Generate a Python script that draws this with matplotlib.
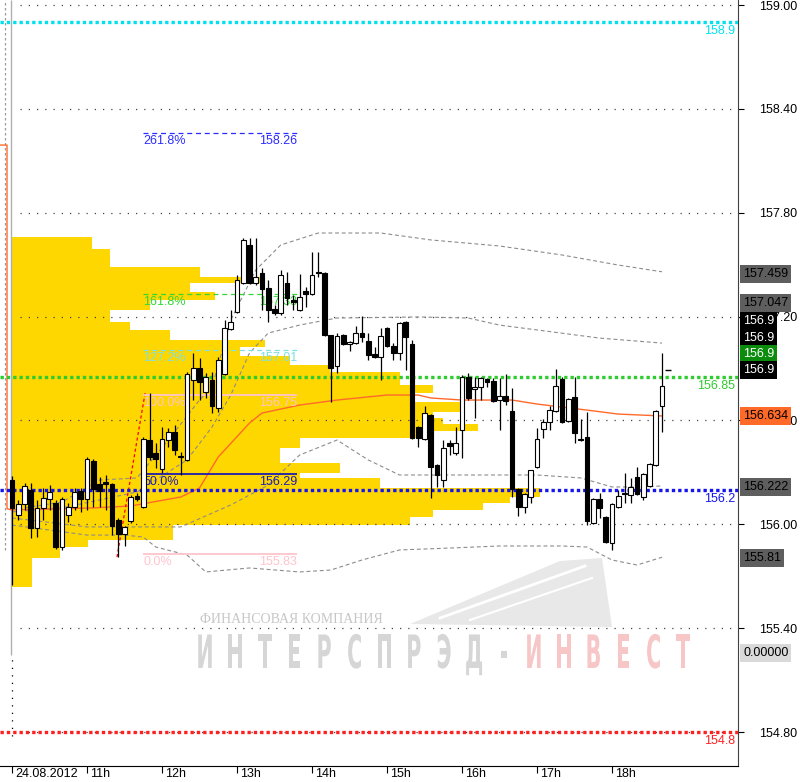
import matplotlib
matplotlib.use("Agg")
import matplotlib.pyplot as plt
from matplotlib.patches import PathPatch, Polygon
from matplotlib.textpath import TextPath
from matplotlib.font_manager import FontProperties
from matplotlib.transforms import Affine2D, blended_transform_factory

plt.rcParams["font.family"] = ["Liberation Sans", "DejaVu Sans"]

# 5-minute candles, 24.08.2012 from 10:00 (index 0)
opens = [156.256, 156.054, 156.118, 156.198, 155.979, 156.095, 156.146, 156.123, 155.869, 156.054,
         156.100, 156.192, 156.146, 156.366, 156.233, 156.244, 156.233, 156.025, 155.944, 156.019,
         156.164, 156.100, 156.487, 156.412, 156.319, 156.487, 156.533, 156.394, 156.372, 156.834,
         156.903, 156.764, 156.834, 156.672, 156.868, 157.129, 157.227, 157.394, 157.614, 157.394,
         157.452, 157.365, 157.244, 157.221, 157.394, 157.296, 157.238, 157.348, 157.331, 157.458,
         157.452, 157.094, 156.914, 157.094, 157.042, 157.048, 157.105, 157.059, 156.984, 156.967,
         157.134, 157.030, 156.990, 157.169, 157.042, 156.562, 156.493, 156.632, 156.343, 156.256,
         156.470, 156.412, 156.545, 156.851, 156.782, 156.793, 156.840, 156.828, 156.718, 156.741,
         156.655, 156.204, 156.100, 156.158, 156.331, 156.551, 156.591, 156.655, 156.840, 156.597,
         156.735, 156.493, 156.504, 156.008, 156.146, 156.042, 155.892, 156.100, 156.175, 156.170,
         156.273, 156.158, 156.221, 156.343, 156.683]
highs = [156.279, 156.141, 156.239, 156.239, 156.141, 156.210, 156.227, 156.141, 156.158, 156.123,
         156.210, 156.210, 156.389, 156.377, 156.273, 156.285, 156.239, 156.037, 155.990, 156.170,
         156.181, 156.504, 156.759, 156.470, 156.562, 156.556, 156.574, 156.418, 156.880, 156.990,
         156.961, 156.874, 156.880, 156.967, 157.180, 157.238, 157.440, 157.654, 157.654, 157.654,
         157.481, 157.411, 157.267, 157.469, 157.457, 157.325, 157.446, 157.371, 157.573, 157.573,
         157.458, 157.094, 157.105, 157.100, 157.059, 157.146, 157.203, 157.105, 157.024, 157.134,
         157.140, 157.047, 157.169, 157.175, 157.065, 156.568, 156.683, 156.637, 156.349, 156.487,
         156.487, 156.562, 156.863, 156.874, 156.851, 156.851, 156.845, 156.845, 156.845, 156.868,
         156.788, 156.210, 156.181, 156.314, 156.556, 156.608, 156.683, 156.897, 156.851, 156.730,
         156.851, 156.608, 156.649, 156.152, 156.181, 156.048, 156.123, 156.198, 156.296, 156.268,
         156.331, 156.296, 156.354, 156.660, 156.990]
lows = [155.649, 156.025, 156.083, 155.921, 155.926, 156.025, 156.083, 155.857, 155.852, 156.013,
        156.083, 156.072, 156.083, 156.100, 156.100, 156.083, 155.938, 155.811, 155.875, 156.008,
        156.135, 156.095, 156.372, 156.325, 156.296, 156.446, 156.400, 156.285, 156.366, 156.718,
        156.718, 156.730, 156.643, 156.649, 156.863, 157.123, 157.221, 157.388, 157.388, 157.382,
        157.238, 157.169, 157.209, 157.209, 157.267, 157.238, 157.232, 157.256, 157.325, 157.429,
        157.088, 156.707, 156.874, 157.036, 157.001, 157.042, 157.053, 156.949, 156.961, 156.834,
        157.024, 156.949, 156.949, 156.892, 156.493, 156.446, 156.487, 156.152, 156.216, 156.216,
        156.400, 156.400, 156.383, 156.718, 156.614, 156.718, 156.793, 156.707, 156.545, 156.689,
        156.158, 156.048, 156.066, 156.123, 156.325, 156.499, 156.545, 156.649, 156.585, 156.591,
        156.470, 156.481, 155.996, 156.002, 156.037, 155.892, 155.852, 156.095, 156.123, 156.123,
        156.170, 156.141, 156.216, 156.337, 156.533]
closes = [156.095, 156.118, 156.221, 155.979, 156.095, 156.152, 156.187, 155.869, 156.146, 156.100,
          156.187, 156.146, 156.377, 156.204, 156.192, 156.233, 155.990, 155.944, 155.985, 156.158,
          156.146, 156.493, 156.389, 156.377, 156.493, 156.533, 156.429, 156.389, 156.868, 156.903,
          156.822, 156.851, 156.683, 156.949, 157.134, 157.169, 157.411, 157.643, 157.394, 157.429,
          157.359, 157.238, 157.221, 157.440, 157.307, 157.284, 157.313, 157.331, 157.440, 157.452,
          157.094, 156.903, 157.088, 157.042, 157.053, 157.105, 157.082, 156.978, 156.967, 157.088,
          157.030, 156.990, 157.163, 157.082, 156.499, 156.499, 156.643, 156.331, 156.285, 156.441,
          156.452, 156.470, 156.851, 156.730, 156.793, 156.845, 156.822, 156.712, 156.741, 156.712,
          156.204, 156.100, 156.175, 156.314, 156.493, 156.591, 156.660, 156.799, 156.591, 156.724,
          156.528, 156.487, 156.019, 156.146, 156.095, 155.898, 156.118, 156.164, 156.181, 156.216,
          156.175, 156.291, 156.349, 156.655, 156.799]

# volume profile (price bin edges, volume per bin)
profile_edges = [157.660, 157.591, 157.487, 157.429, 157.394, 157.342, 157.296, 157.238, 157.169,
                 157.123, 157.065, 157.024, 156.972, 156.920, 156.880, 156.805, 156.759, 156.707,
                 156.649, 156.614, 156.580, 156.539, 156.499, 156.441, 156.354, 156.296, 156.268,
                 156.210, 156.158, 156.123, 156.083, 156.042, 155.996, 155.909, 155.869, 155.805,
                 155.638]
profile_vol = [81, 99, 189, 254, 179, 204, 139, 99, 119, 159, 254, 229, 279, 319, 389, 422, 404, 452,
               422, 432, 467, 409, 289, 269, 329, 289, 369, 529, 499, 472, 422, 399, 162, 77, 49, 21]

# VWAP
vwap_x = [-1.9, -0.8, -0.8, 0, 13, 19, 27, 30, 33, 38, 40, 46, 52, 60, 65, 67, 72, 80, 84, 92, 97, 104]
vwap_y = [158.191, 158.191, 156.09, 156.083, 156.095, 156.106, 156.158, 156.210, 156.389, 156.585,
          156.643, 156.689, 156.718, 156.747, 156.747, 156.730, 156.718, 156.718, 156.695, 156.660,
          156.637, 156.626]

# deviation bands
band1_x = [0, 8, 14, 20, 25, 30, 32, 35, 39, 43, 49, 59, 67, 78, 88, 97, 104]
band1_y = [156.083, 156.129, 156.256, 156.268, 156.487, 156.718, 156.793, 157.180, 157.469, 157.614,
           157.683, 157.683, 157.643, 157.608, 157.556, 157.498, 157.459]
band2_x = [0, 8, 14, 20, 28, 32, 35, 38, 41, 46, 52, 65, 73, 78, 84, 94, 104]
band2_y = [156.072, 156.095, 156.141, 156.187, 156.372, 156.562, 156.747, 156.990, 157.105, 157.151,
           157.192, 157.198, 157.192, 157.151, 157.123, 157.076, 157.047]
band3_x = [0, 12, 27, 35, 41, 46, 52, 57, 62, 72, 84, 91, 96, 101, 104]
band3_y = [156.037, 155.985, 155.985, 156.112, 156.227, 156.400, 156.487, 156.372, 156.285, 156.285,
           156.285, 156.268, 156.216, 156.216, 156.222]
band4_x = [0, 12, 18, 21, 23, 28, 31, 38, 46, 51, 56, 62, 70, 78, 88, 92, 96, 100, 104]
band4_y = [155.996, 155.938, 155.938, 155.927, 155.869, 155.823, 155.725, 155.748, 155.725, 155.736,
           155.794, 155.852, 155.863, 155.875, 155.875, 155.869, 155.794, 155.765, 155.810]

# Fibonacci levels
fib_pct = ["261.8%", "161.8%", "127.2%", "100.0%", "50.0%", "0.0%"]
fib_price = [158.26, 157.33, 157.01, 156.75, 156.29, 155.83]
fib_label = ["158.26", "157.33", "157.01", "156.75", "156.29", "155.83"]
fib_color = ["#2b2bff", "#33d633", "#7fe0e0", "#ffc4cc", "#1c1cb4", "#ffc4cc"]
fib_dashed = [True, True, True, False, False, False]
fib_swing_x = [16.8, 21.3]
fib_swing_y = [155.811, 156.759]

# horizontal levels
level_price = [158.9, 156.85, 156.2, 154.8]
level_label = ["158.9", "156.85", "156.2", "154.8"]
level_color = ["#00e1f0", "#2fcc2f", "#1414f0", "#ff2020"]

# right-hand price markers
box_text = ["157.459", "157.047", "156.9", "156.9", "156.9", "156.9", "156.634", "156.222", "155.81", "0.00000"]
box_y = [157.446, 157.279, 157.175, 157.076, 156.984, 156.892, 156.626, 156.216, 155.805, 155.257]
box_face = ["#5e5e5e", "#5e5e5e", "black", "black", "#0c8c0c", "black", "#ff6a28", "#5e5e5e", "#5e5e5e", "#d9d9d9"]
box_fg = ["black", "black", "white", "white", "white", "white", "black", "black", "black", "black"]

price_ticks = [154.8, 155.4, 156.0, 156.6, 157.2, 157.8, 158.4, 159.0]
hour_ticks = [0, 12, 24, 36, 48, 60, 72, 84, 96]
hour_labels = ["24.08.2012", "11h", "12h", "13h", "14h", "15h", "16h", "17h", "18h"]

fig = plt.figure(figsize=(8.0, 7.82), dpi=100)
wm = fig.add_axes([0, 0, 1, 1], zorder=0)
wm.set_xlim(0, 800)
wm.set_ylim(782, 0)
wm.axis("off")
ax = fig.add_axes([0, 16 / 782, 738 / 800, 766 / 782], zorder=1)
ax.patch.set_alpha(0)
ax.set_xlim(-1.92, 116.16)
ax.set_ylim(154.604, 159.029)

# watermark
wm.add_patch(Polygon([(410, 624), (560, 561), (602, 558), (612, 627)], closed=True,
                     facecolor="#e8e8e8", edgecolor="none"))
wm.plot([440, 585], [618, 566], color="white", lw=2)
wm.plot([470, 592], [620, 578], color="white", lw=1.5)
wm.text(200, 623, "ФИНАНСОВАЯ КОМПАНИЯ", fontsize=10, family=["Liberation Serif", "DejaVu Serif"],
        color="#c6c6c6", va="baseline")
fp = FontProperties(family="DejaVu Sans", weight="bold")
for i, ch in enumerate("ИНТЕРСПРЭД-ИНВЕСТ"):
    tp = TextPath((0, 0), ch, size=46, prop=fp)
    ext = tp.get_extents()
    cx = (ext.x0 + ext.x1) / 2
    tr = Affine2D().translate(-cx, 0).scale(0.45, -1.0).translate(205 + i * 29.9, 668)
    wm.add_patch(PathPatch(tr.transform_path(tp), facecolor="#d6d6d6" if i < 11 else "#f7c6c6",
                           edgecolor="none"))

# volume profile
bottoms = profile_edges[1:]
heights = [a - b for a, b in zip(profile_edges[:-1], profile_edges[1:])]
ax.barh(bottoms, [v / 6.25 for v in profile_vol], height=heights, left=-0.16, align="edge",
        color="#ffd700", lw=0, zorder=1)

# grid
ax.hlines(price_ticks, 1.2, 116.16, colors="#444444", linestyles=(0, (1, 5.6)), lw=0.9, zorder=1.5)

# session separators
ax.vlines(-0.16, 155.245, 159.029, colors="#b0b0b0", lw=1, zorder=1.6)
ax.vlines(-1.12, 155.85, 159.029, colors="#9a9a9a", linestyles=(0, (2, 2)), lw=0.9, zorder=1.6)
ax.vlines(0.05, 154.78, 155.22, colors="black", linestyles=(0, (1, 5)), lw=0.9, zorder=1.6)

# bands
for bx, by in [(band1_x, band1_y), (band2_x, band2_y), (band3_x, band3_y), (band4_x, band4_y)]:
    ax.plot(bx, by, color="#8c8c8c", lw=0.8, dashes=(3.5, 2.5), zorder=2)

# thick dotted levels
for p, lab, c in zip(level_price, level_label, level_color):
    ax.hlines(p, -1.92, 116.16, colors=c, linestyles=(0, (1, 0.9)), lw=2.4, zorder=3.5)
    ax.annotate(lab, (115.7, p), xytext=(0, -3), textcoords="offset pixels", color=c,
                fontsize=9, ha="right", va="top", zorder=6)

# vwap
ax.plot(vwap_x, vwap_y, color="#ff6a2a", lw=1.0, zorder=3)

# fibonacci
ax.plot(fib_swing_x, fib_swing_y, color="red", lw=0.9, dashes=(2.5, 2), zorder=3)
for pct, p, lab, c, dsh in zip(fib_pct, fib_price, fib_label, fib_color, fib_dashed):
    if dsh:
        ax.hlines(p, 21.0, 45.6, colors=c, linestyles=(0, (4, 3)), lw=0.9, zorder=3)
    else:
        ax.hlines(p, 21.0, 45.6, colors=c, lw=1.3, zorder=3)
    ax.annotate(pct, (21.0, p), xytext=(0, -2), textcoords="offset pixels", color=c,
                fontsize=9, ha="left", va="top", zorder=3)
    ax.annotate(lab, (45.6, p), xytext=(0, -2), textcoords="offset pixels", color=c,
                fontsize=9, ha="right", va="top", zorder=3)

# candles
idx = list(range(len(opens)))
ax.vlines(idx, lows, highs, colors="black", lw=0.9, zorder=4)
body_bottom = [min(o, c) for o, c in zip(opens, closes)]
body_height = [max(abs(c - o), 0.004) for o, c in zip(opens, closes)]
body_color = ["white" if c >= o else "black" for o, c in zip(opens, closes)]
ax.bar(idx, body_height, bottom=body_bottom, width=0.78, color=body_color, edgecolor="black",
       lw=0.8, zorder=5)
ax.hlines(closes[-1] + 0.093, 104.4, 105.4, colors="black", lw=1, zorder=5)

# axes styling
for side in ["top", "left"]:
    ax.spines[side].set_visible(False)
ax.spines["right"].set_color("#404040")
ax.spines["bottom"].set_color("black")
ax.yaxis.tick_right()
ax.set_yticks(price_ticks)
ax.set_yticklabels([f"{p:.2f}" for p in price_ticks])
ax.tick_params(axis="y", direction="out", length=4, pad=11, labelsize=9, colors="black")
ax.set_xticks(hour_ticks)
ax.set_xticklabels([])
ax.tick_params(axis="x", direction="out", length=5, width=0.8)
for t, lab in zip(hour_ticks, hour_labels):
    ax.annotate(lab, (t, 0), xycoords=("data", "axes fraction"), xytext=(3, -2),
                textcoords="offset pixels", fontsize=9, ha="left", va="top", annotation_clip=False)

# right-hand price boxes
btr = blended_transform_factory(ax.transAxes, ax.transData)
for t, y, fc, tc in zip(box_text, box_y, box_face, box_fg):
    ax.text(1.0068, y, t, transform=btr, fontsize=9, color=tc, ha="left", va="center",
            clip_on=False, zorder=10,
            bbox=dict(boxstyle="square,pad=0.22", facecolor=fc, edgecolor="none"))

fig.savefig("out.png", dpi=100, facecolor="white")
